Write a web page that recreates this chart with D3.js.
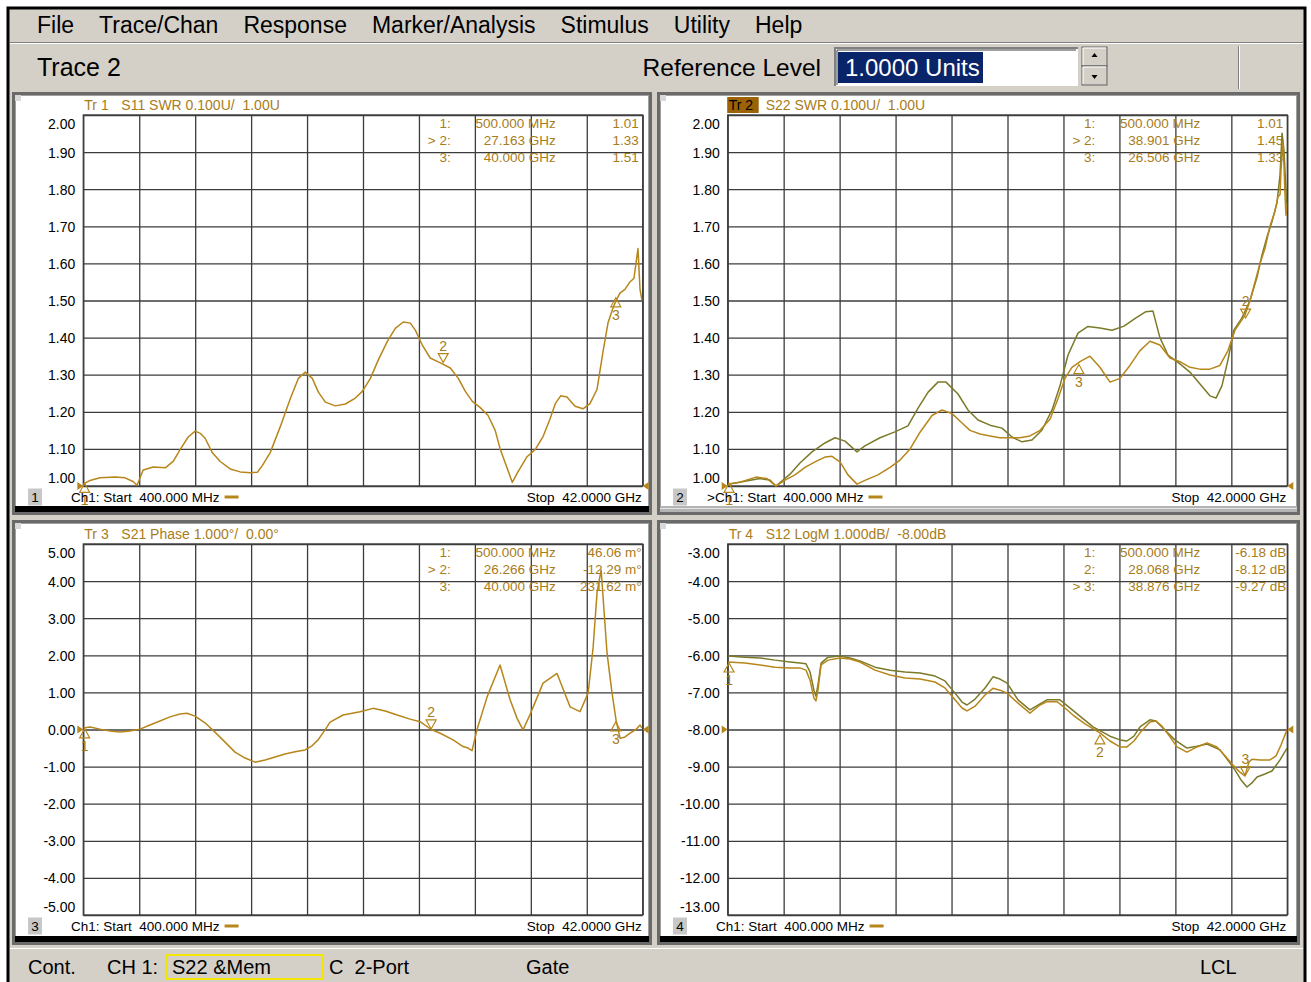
<!DOCTYPE html>
<html><head><meta charset="utf-8">
<script src="https://cdnjs.cloudflare.com/ajax/libs/d3/7.8.5/d3.min.js"></script>
<style>
html,body{margin:0;padding:0;background:#fff;}
svg{display:block;font-family:"Liberation Sans",Arial,sans-serif;}
text{white-space:pre;}
</style></head><body>
<svg id="chart" width="1311" height="982"></svg>
<script>
// ================= DATA =================
const menuItems = ["File","Trace/Chan","Response","Marker/Analysis","Stimulus","Utility","Help"];
const statusItems = ["Cont.","CH 1:","S22 &Mem","C  2-Port","Gate","LCL"];
const startGHz = 0.4, stopGHz = 42;

const swrTicks   = [2.00,1.90,1.80,1.70,1.60,1.50,1.40,1.30,1.20,1.10,1.00];
const phaseTicks = [5,4,3,2,1,0,-1,-2,-3,-4,-5];
const logmTicks  = [-3,-4,-5,-6,-7,-8,-9,-10,-11,-12,-13];

// Tr1  S11 SWR
const s11Freq = [0.40,0.90,1.64,2.76,3.50,4.10,4.40,4.85,5.60,6.50,7.10,7.60,8.20,8.72,9.10,9.47,9.99,10.58,11.33,12.07,12.82,13.34,13.71,14.30,15.05,15.79,16.39,16.91,17.43,17.88,18.40,19.14,19.89,20.63,21.15,21.75,22.34,23.01,23.60,24.20,24.72,25.09,25.61,26.20,26.95,27.69,28.29,28.81,29.33,29.90,30.50,31.03,31.40,31.80,32.30,32.70,33.40,34.00,34.60,35.10,35.50,35.90,36.37,36.97,37.56,38.08,38.60,39.04,39.42,39.79,40.09,40.31,40.68,41.05,41.35,41.50,41.65,41.80,41.95];
const s11Swr  = [1.005,1.015,1.022,1.024,1.022,1.012,1.002,1.043,1.051,1.049,1.067,1.098,1.132,1.148,1.142,1.128,1.090,1.066,1.046,1.038,1.036,1.037,1.055,1.090,1.160,1.235,1.290,1.307,1.290,1.253,1.226,1.216,1.221,1.237,1.255,1.290,1.340,1.390,1.425,1.442,1.439,1.420,1.380,1.345,1.332,1.318,1.290,1.255,1.228,1.212,1.190,1.150,1.100,1.060,1.010,1.037,1.079,1.098,1.134,1.180,1.222,1.243,1.240,1.215,1.208,1.222,1.260,1.360,1.440,1.480,1.505,1.520,1.530,1.550,1.560,1.600,1.640,1.530,1.500];

// Tr2  S22 SWR (data) and memory
const s22Freq = [0.42,1.31,2.50,3.32,3.99,4.66,5.40,6.15,6.89,7.63,8.15,8.75,9.34,10.01,10.60,11.57,12.47,13.21,13.96,14.70,15.59,16.33,17.08,17.82,18.41,19.16,19.90,20.64,21.39,22.13,22.87,23.62,24.36,24.95,25.47,25.99,26.59,27.33,28.07,28.82,29.56,30.30,31.05,31.79,32.53,33.28,34.02,34.76,35.51,36.25,36.99,37.59,38.11,38.85,39.23,39.97,40.34,40.71,41.08,41.31,41.46,41.53,41.68,41.75,41.83,41.90,41.98];
const s22Swr  = [1.005,1.010,1.024,1.020,1.000,1.016,1.030,1.050,1.065,1.078,1.080,1.065,1.030,1.005,1.015,1.030,1.050,1.070,1.100,1.145,1.190,1.205,1.195,1.170,1.150,1.140,1.135,1.130,1.130,1.130,1.135,1.150,1.180,1.235,1.290,1.320,1.335,1.350,1.320,1.280,1.290,1.325,1.365,1.390,1.380,1.345,1.335,1.320,1.315,1.315,1.325,1.365,1.420,1.460,1.500,1.600,1.640,1.700,1.740,1.780,1.785,1.850,1.930,1.865,1.785,1.730,1.760];
const s22MemFreq = [0.42,1.68,2.80,3.54,3.99,5.03,5.77,6.67,7.63,8.38,9.12,10.01,10.60,11.72,12.83,13.80,14.55,15.30,16.03,16.63,17.52,18.26,19.01,19.90,20.79,21.53,22.28,23.02,23.77,24.51,25.10,25.70,26.44,27.18,28.07,28.97,29.86,30.75,31.49,32.01,32.53,33.13,34.02,34.76,35.51,36.25,36.70,37.14,37.59,38.03,38.63,39.23,39.75,40.12,40.49,40.86,41.23,41.46,41.61,41.75,41.90,41.98];
const s22MemSwr  = [1.005,1.013,1.020,1.016,1.000,1.032,1.062,1.092,1.116,1.130,1.121,1.092,1.108,1.130,1.146,1.162,1.210,1.253,1.280,1.280,1.248,1.205,1.178,1.164,1.156,1.132,1.119,1.124,1.151,1.205,1.270,1.353,1.412,1.430,1.426,1.420,1.431,1.453,1.470,1.472,1.400,1.353,1.329,1.307,1.275,1.243,1.237,1.270,1.340,1.420,1.453,1.500,1.563,1.623,1.671,1.712,1.763,1.838,1.951,1.906,1.798,1.757];

// Tr3  S21 Phase
const s21Freq  = [0.40,0.90,1.64,2.39,3.13,3.87,4.62,5.36,6.10,6.85,7.59,8.11,8.71,9.45,10.19,10.94,11.68,12.43,13.17,13.92,14.66,15.40,16.15,16.89,17.41,17.86,18.38,18.75,19.72,20.98,21.95,22.85,23.74,24.70,25.45,26.27,26.94,27.90,28.64,29.01,29.31,29.68,30.43,31.39,32.14,32.66,33.10,33.62,34.59,35.63,36.60,37.34,37.94,38.31,38.61,38.91,39.35,39.72,40.02,40.32,40.69,41.06,41.50,41.80,41.95];
const s21Phase = [0.04,0.07,0.01,-0.04,-0.07,-0.04,0.01,0.12,0.23,0.34,0.42,0.44,0.36,0.18,-0.07,-0.34,-0.61,-0.77,-0.88,-0.82,-0.74,-0.66,-0.60,-0.55,-0.44,-0.28,-0.01,0.20,0.39,0.48,0.57,0.50,0.39,0.28,0.21,0.00,-0.10,-0.28,-0.46,-0.50,-0.57,0.00,0.88,1.74,0.80,0.30,-0.01,0.40,1.25,1.51,0.61,0.48,0.98,2.20,3.71,4.30,2.05,0.98,0.25,-0.24,-0.20,-0.10,0.00,0.12,0.04];

// Tr4  S12 LogM (data) and memory
const s12Freq = [0.42,1.68,2.80,3.92,5.03,5.77,6.22,6.52,6.81,6.96,7.11,7.34,7.86,8.75,9.49,10.23,11.35,12.47,13.58,14.70,15.81,16.55,17.30,17.82,18.19,18.79,19.53,20.12,20.64,21.17,21.98,22.87,23.62,24.14,24.88,25.47,26.07,26.96,28.07,28.82,29.56,30.08,30.60,31.05,31.79,32.23,32.68,33.28,33.80,34.54,35.29,36.03,36.77,37.37,37.96,38.48,38.85,39.15,39.37,39.97,40.71,41.16,41.53,41.98];
const s12LogM = [-6.18,-6.21,-6.26,-6.32,-6.34,-6.34,-6.40,-6.67,-7.15,-7.23,-6.94,-6.26,-6.13,-6.07,-6.10,-6.18,-6.40,-6.53,-6.61,-6.64,-6.72,-6.88,-7.20,-7.42,-7.50,-7.37,-7.07,-6.89,-6.94,-7.02,-7.29,-7.56,-7.34,-7.25,-7.25,-7.42,-7.61,-7.85,-8.09,-8.31,-8.47,-8.47,-8.31,-8.09,-7.80,-7.77,-7.91,-8.20,-8.47,-8.61,-8.47,-8.36,-8.47,-8.71,-8.96,-9.15,-9.25,-8.88,-8.80,-8.82,-8.82,-8.71,-8.42,-8.01];
const s12MemFreq = [0.42,1.68,2.80,3.92,5.03,5.77,6.22,6.52,6.81,6.96,7.11,7.34,7.86,8.75,9.49,10.23,11.35,12.47,13.58,14.70,15.81,16.55,17.30,17.82,18.19,18.79,19.53,20.12,20.64,21.17,21.98,22.87,23.62,24.14,25.10,26.22,27.56,28.82,29.56,30.08,30.60,31.05,31.79,32.23,32.75,33.64,34.54,35.29,36.03,37.00,37.96,38.56,39.00,39.37,39.75,40.34,40.86,41.46,41.98];
const s12MemLogM = [-6.02,-6.05,-6.07,-6.13,-6.18,-6.21,-6.23,-6.45,-6.94,-7.10,-6.80,-6.21,-6.05,-6.02,-6.07,-6.15,-6.32,-6.40,-6.45,-6.48,-6.56,-6.69,-7.02,-7.26,-7.34,-7.18,-6.88,-6.58,-6.64,-6.75,-7.20,-7.47,-7.31,-7.20,-7.20,-7.53,-7.93,-8.18,-8.28,-8.31,-8.18,-7.93,-7.74,-7.77,-7.96,-8.28,-8.50,-8.45,-8.39,-8.55,-9.01,-9.36,-9.55,-9.44,-9.28,-9.20,-9.12,-8.82,-8.50];

// Markers
const s11MarkerFreq = [0.5,27.163,40.0];
const s11MarkerVal  = [1.01,1.33,1.51];
const s11MarkerId   = ["1:","> 2:","3:"];
const s11MarkerFreqText = ["500.000 MHz","27.163 GHz","40.000 GHz"];
const s11MarkerValText  = ["1.01","1.33","1.51"];

const s22MarkerFreq = [0.5,38.901,26.506];
const s22MarkerVal  = [1.01,1.45,1.33];
const s22MarkerId   = ["1:","> 2:","3:"];
const s22MarkerFreqText = ["500.000 MHz","38.901 GHz","26.506 GHz"];
const s22MarkerValText  = ["1.01","1.45","1.33"];

const s21MarkerFreq = [0.5,26.266,40.0];
const s21MarkerVal  = [0.04606,-0.01229,0.23162];
const s21MarkerId   = ["1:","> 2:","3:"];
const s21MarkerFreqText = ["500.000 MHz","26.266 GHz","40.000 GHz"];
const s21MarkerValText  = ["46.06 m°","-12.29 m°","231.62 m°"];

const s12MarkerFreq = [0.5,28.068,38.876];
const s12MarkerVal  = [-6.18,-8.12,-9.27];
const s12MarkerId   = ["1:","2:","> 3:"];
const s12MarkerFreqText = ["500.000 MHz","28.068 GHz","38.876 GHz"];
const s12MarkerValText  = ["-6.18 dB","-8.12 dB","-9.27 dB"];

// ================= STYLE / LAYOUT =================
const GOLD = "#b7861a", GOLDTXT = "#a87c1a", OLIVE = "#7b7a2a", GRID = "#3c3c3c", GUI = "#d4d0c8";
const svg = d3.select("#chart");

// window
svg.append("rect").attr("x",8).attr("y",8).attr("width",1297).attr("height",980).attr("fill",GUI).attr("stroke","#000").attr("stroke-width",3);
svg.append("line").attr("x1",10).attr("x2",1303).attr("y1",42.5).attr("y2",42.5).attr("stroke","#808080");
svg.append("line").attr("x1",10).attr("x2",1303).attr("y1",43.5).attr("y2",43.5).attr("stroke","#fff");

// menu
let mx = 37;
menuItems.forEach(m => {
  const t = svg.append("text").attr("x",mx).attr("y",33).attr("font-size",23).attr("fill","#000").text(m);
  mx += t.node().getComputedTextLength() + 25;
});

// toolbar
svg.append("text").attr("x",37).attr("y",76).attr("font-size",25).text("Trace 2");
svg.append("text").attr("x",821).attr("y",76).attr("font-size",24.5).attr("text-anchor","end").text("Reference Level");
svg.append("rect").attr("x",835).attr("y",48).attr("width",243).attr("height",38).attr("fill","#fff");
svg.append("path").attr("d","M835,86V48H1078").attr("fill","none").attr("stroke","#808080").attr("stroke-width",2);
svg.append("path").attr("d","M837,85V50H1076").attr("fill","none").attr("stroke","#404040").attr("stroke-width",1);
svg.append("rect").attr("x",838).attr("y",52).attr("width",145).attr("height",31).attr("fill","#0a246a");
svg.append("text").attr("x",845).attr("y",76).attr("font-size",24).attr("fill","#fff").text("1.0000 Units");
[[1082,47],[1082,66]].forEach(([sx,sy])=>{
  svg.append("rect").attr("x",sx).attr("y",sy).attr("width",25).attr("height",19).attr("fill",GUI).attr("stroke","#606060");
  svg.append("path").attr("d","M"+(sx+1)+","+(sy+18)+"V"+(sy+1)+"H"+(sx+24)).attr("fill","none").attr("stroke","#fff");
});
svg.append("path").attr("d","M1094.5,53 L1097.5,57 L1091.5,57 Z").attr("fill","#000");
svg.append("path").attr("d","M1094.5,79 L1097.5,75 L1091.5,75 Z").attr("fill","#000");
svg.append("line").attr("x1",1238.5).attr("x2",1238.5).attr("y1",46).attr("y2",89).attr("stroke","#808080");
svg.append("line").attr("x1",1239.5).attr("x2",1239.5).attr("y1",46).attr("y2",89).attr("stroke","#fff");

// status bar
svg.append("line").attr("x1",10).attr("x2",1303).attr("y1",948.5).attr("y2",948.5).attr("stroke","#fff");
svg.append("rect").attr("x",167).attr("y",955).attr("width",155).attr("height",24).attr("fill","none").attr("stroke","#f2e600").attr("stroke-width",2);
const statusX = [28,107,172,329,526,1200];
statusItems.forEach((s,i)=> svg.append("text").attr("x",statusX[i]).attr("y",974).attr("font-size",20).attr("fill","#000").text(s));

// ================= PANELS =================
function drawPanel(cfg){
  const [fx0,fy0,fx1,fy1] = cfg.frame;
  const [px0,py0,px1,py1] = cfg.plot;
  const g = svg.append("g");
  g.append("rect").attr("x",fx0).attr("y",fy0).attr("width",fx1-fx0).attr("height",fy1-fy0).attr("fill","#fff");
  g.append("rect").attr("x",fx0+1.5).attr("y",fy0+1.5).attr("width",fx1-fx0-3).attr("height",fy1-fy0-3).attr("fill","none").attr("stroke","#6a6a6a").attr("stroke-width",3);
  g.append("rect").attr("x",fx0+3.5).attr("y",fy0+3.5).attr("width",fx1-fx0-7).attr("height",fy1-fy0-7).attr("fill","none").attr("stroke","#a0a0a0").attr("stroke-width",1);
  g.append("rect").attr("x",fx0+3).attr("y",fy0+3).attr("width",6).attr("height",6).attr("fill","#d8d8d8");
  g.append("rect").attr("x",fx0+3).attr("y",fy1-9).attr("width",fx1-fx0-6).attr("height",6).attr("fill",cfg.active?"#b4b4b4":"#000");
  if(cfg.active) g.append("line").attr("x1",fx0+3).attr("x2",fx1-3).attr("y1",fy1-6.5).attr("y2",fy1-6.5).attr("stroke","#e4e4e4");

  const x = d3.scaleLinear().domain([startGHz,stopGHz]).range([px0,px1]);
  const y = d3.scaleLinear().domain([cfg.ticks[cfg.ticks.length-1],cfg.ticks[0]]).range([py1,py0]);
  const plotW = px1-px0, plotH = py1-py0;

  const gridFreqs = d3.range(11).map(i => startGHz + i*(stopGHz-startGHz)/10);
  const vg = g.append("g").attr("transform","translate(0,"+py1+")")
    .call(d3.axisBottom(x).tickValues(gridFreqs).tickSize(-plotH).tickFormat(""));
  vg.select(".domain").remove();
  vg.selectAll(".tick line").attr("stroke",GRID).attr("stroke-width",1.3);
  const hg = g.append("g").attr("transform","translate("+px0+",0)")
    .call(d3.axisLeft(y).tickValues(cfg.ticks).tickSize(-plotW).tickPadding(8).tickFormat(d=>d.toFixed(2)));
  hg.select(".domain").remove();
  hg.selectAll(".tick line").attr("stroke",GRID).attr("stroke-width",1.3);
  hg.selectAll(".tick text").attr("font-size",14).attr("fill","#000").attr("font-family","Liberation Sans, Arial, sans-serif")
    .attr("dy",(d,i)=> i===0 ? "0.95em" : (i===cfg.ticks.length-1 ? "-0.25em" : "0.35em"));
  g.append("rect").attr("x",px0).attr("y",py0).attr("width",plotW).attr("height",plotH).attr("fill","none").attr("stroke",GRID).attr("stroke-width",1.3);

  // title
  if(cfg.active){
    g.append("rect").attr("x",px0-0.5).attr("y",py0-18).attr("width",31.5).attr("height",16).attr("fill","#9c6206");
    g.append("text").attr("x",px0+1).attr("y",py0-5.5).attr("font-size",14).attr("fill","#000").text(cfg.tag);
  } else {
    g.append("text").attr("x",px0+1).attr("y",py0-5.5).attr("font-size",14).attr("fill",GOLDTXT).text(cfg.tag);
  }
  g.append("text").attr("x",px0+38).attr("y",py0-5.5).attr("font-size",14).attr("fill",GOLDTXT).text(cfg.title);

  // readouts
  cfg.mk.id.forEach((id,i)=>{
    const by = py0+12.5+i*17;
    g.append("text").attr("x",px1-192).attr("y",by).attr("font-size",13.5).attr("text-anchor","end").attr("fill",GOLDTXT).text(id);
    g.append("text").attr("x",px1-87).attr("y",by).attr("font-size",13.5).attr("text-anchor","end").attr("fill",GOLDTXT).text(cfg.mk.ft[i]);
    g.append("text").attr("x",px1-cfg.valOff).attr("y",by).attr("font-size",13.5).attr("text-anchor","end").attr("fill",GOLDTXT).text(cfg.mk.vt[i]);
  });

  // traces
  const clipId = "clip"+cfg.num;
  svg.append("clipPath").attr("id",clipId).append("rect").attr("x",px0).attr("y",py0-1).attr("width",plotW).attr("height",plotH+2);
  const line = d3.line().x(d=>x(d[0])).y(d=>y(d[1]));
  const tg = g.append("g").attr("clip-path","url(#"+clipId+")");
  cfg.traces.forEach(tr=>{
    tg.append("path").datum(d3.zip(tr.f,tr.v)).attr("d",line).attr("fill","none")
      .attr("stroke",tr.color).attr("stroke-width",1.5).attr("stroke-linejoin","round");
  });

  // reference arrows
  const ry = y(cfg.ref);
  g.append("path").attr("d",`M${px0-6},${ry-4}L${px0},${ry}L${px0-6},${ry+4}Z`).attr("fill",GOLD);
  g.append("path").attr("d",`M${px1+6},${ry-4}L${px1},${ry}L${px1+6},${ry+4}Z`).attr("fill",GOLD);

  // marker symbols
  cfg.mk.f.forEach((mf,i)=>{
    const cx = x(mf), cy = y(cfg.mk.v[i]);
    const num = String(i+1);
    if(cfg.mk.side[i]==="above"){
      g.append("path").attr("d",`M${cx},${cy-1}L${cx-5},${cy-10}L${cx+5},${cy-10}Z`).attr("fill","none").attr("stroke",GOLD).attr("stroke-width",1.2);
      g.append("text").attr("x",cx).attr("y",cy-13).attr("font-size",14).attr("text-anchor","middle").attr("fill",GOLDTXT).text(num);
    } else {
      g.append("path").attr("d",`M${cx},${cy+1}L${cx-5},${cy+10}L${cx+5},${cy+10}Z`).attr("fill","none").attr("stroke",GOLD).attr("stroke-width",1.2);
      g.append("text").attr("x",cx).attr("y",cy+23).attr("font-size",14).attr("text-anchor","middle").attr("fill",GOLDTXT).text(num);
    }
  });

  // footer
  const fy = py1+11;
  g.append("rect").attr("x",fx0+16).attr("y",fy-8.5).attr("width",14).attr("height",17).attr("fill","#c8c8c8");
  g.append("text").attr("x",fx0+23).attr("y",fy+5).attr("font-size",13.5).attr("text-anchor","middle").attr("fill","#000").text(cfg.num);
  const st = g.append("text").attr("x",fx0+cfg.startOff).attr("y",fy+4.5).attr("font-size",13.5).attr("fill","#000").text(cfg.startText);
  const sw = st.node().getComputedTextLength();
  g.append("line").attr("x1",fx0+cfg.startOff+sw+5).attr("x2",fx0+cfg.startOff+sw+19).attr("y1",fy).attr("y2",fy).attr("stroke",GOLD).attr("stroke-width",3);
  g.append("text").attr("x",px1-1).attr("y",fy+4.5).attr("font-size",13.5).attr("text-anchor","end").attr("fill","#000").text("Stop  42.0000 GHz");
}

drawPanel({num:"1",frame:[12,92,652,515],plot:[83.3,115,642.7,486],ticks:swrTicks,ref:1.0,
  tag:"Tr 1",title:"S11 SWR 0.100U/  1.00U",active:false,valOff:4,startOff:59,startText:"Ch1: Start  400.000 MHz",
  traces:[{f:s11Freq,v:s11Swr,color:GOLD}],
  mk:{f:s11MarkerFreq,v:s11MarkerVal,id:s11MarkerId,ft:s11MarkerFreqText,vt:s11MarkerValText,side:["below","above","below"]}});
drawPanel({num:"2",frame:[657,92,1300,515],plot:[727.7,115,1287.3,486],ticks:swrTicks,ref:1.0,
  tag:"Tr 2",title:"S22 SWR 0.100U/  1.00U",active:true,valOff:4,startOff:50,startText:">Ch1: Start  400.000 MHz",
  traces:[{f:s22MemFreq,v:s22MemSwr,color:OLIVE},{f:s22Freq,v:s22Swr,color:GOLD}],
  mk:{f:s22MarkerFreq,v:s22MarkerVal,id:s22MarkerId,ft:s22MarkerFreqText,vt:s22MarkerValText,side:["below","above","below"]}});
drawPanel({num:"3",frame:[12,520,652,945],plot:[83.3,544,642.7,915],ticks:phaseTicks,ref:0,
  tag:"Tr 3",title:"S21 Phase 1.000°/  0.00°",active:false,valOff:1,startOff:59,startText:"Ch1: Start  400.000 MHz",
  traces:[{f:s21Freq,v:s21Phase,color:GOLD}],
  mk:{f:s21MarkerFreq,v:s21MarkerVal,id:s21MarkerId,ft:s21MarkerFreqText,vt:s21MarkerValText,side:["below","above","below"]}});
drawPanel({num:"4",frame:[657,520,1300,945],plot:[727.7,544,1287.3,915],ticks:logmTicks,ref:-8,
  tag:"Tr 4",title:"S12 LogM 1.000dB/  -8.00dB",active:false,valOff:1,startOff:59,startText:"Ch1: Start  400.000 MHz",
  traces:[{f:s12MemFreq,v:s12MemLogM,color:OLIVE},{f:s12Freq,v:s12LogM,color:GOLD}],
  mk:{f:s12MarkerFreq,v:s12MarkerVal,id:s12MarkerId,ft:s12MarkerFreqText,vt:s12MarkerValText,side:["below","below","above"]}});
</script>
</body></html>
